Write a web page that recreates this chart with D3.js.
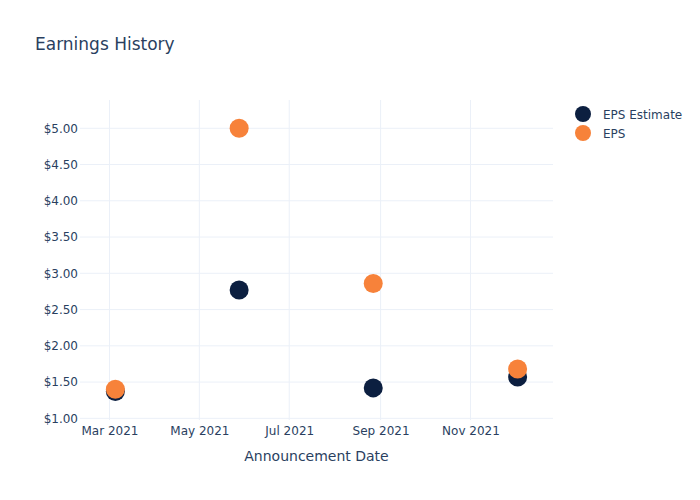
<!DOCTYPE html>
<html>
<head>
<meta charset="utf-8">
<script src="https://cdn.jsdelivr.net/npm/d3@7"></script>
<style>
body{margin:0;background:#fff;}
svg{font-family:"DejaVu Sans",Verdana,sans-serif;}
</style>
</head>
<body>
<svg id="chart" width="700" height="500"></svg>
<script>
const dates = ["2021-03-05","2021-05-28","2021-08-27","2021-12-03"];
const epsEstimate = [1.37, 2.77, 1.42, 1.57];
const eps = [1.40, 5.00, 2.86, 1.68];
const seriesNames = ["EPS Estimate","EPS"];
const seriesColors = ["#0c1f40","#f7823a"];
const xTickDates = ["2021-03-01","2021-05-01","2021-07-01","2021-09-01","2021-11-01"];
const yTicks = [1,1.5,2,2.5,3,3.5,4,4.5,5];

const parse = d3.utcParse("%Y-%m-%d");
const svg = d3.select("#chart");
const m = {l:80, r:147, t:100, b:80};
const W = 700, H = 500;

const x = d3.scaleUtc()
  .domain([parse("2021-02-09"), parse("2021-12-27")])
  .range([m.l, W - m.r]);
const y = d3.scaleLinear()
  .domain([0.977, 5.39])
  .range([H - m.b, m.t]);

const grid = "#ebf0f8";
const txt = "#2a3f5f";

// grid lines
svg.append("g").selectAll("line").data(yTicks).join("line")
  .attr("x1", m.l).attr("x2", W - m.r)
  .attr("y1", d => y(d)).attr("y2", d => y(d))
  .attr("stroke", grid).attr("stroke-width", 1);
svg.append("g").selectAll("line").data(xTickDates.map(parse)).join("line")
  .attr("x1", d => x(d)).attr("x2", d => x(d))
  .attr("y1", m.t).attr("y2", H - m.b)
  .attr("stroke", grid).attr("stroke-width", 1);

// axes
const yAxis = d3.axisLeft(y).tickValues(yTicks).tickSize(0).tickPadding(2)
  .tickFormat(d => "$" + d3.format(".2f")(d));
const gy = svg.append("g").attr("transform", `translate(${m.l},0)`).call(yAxis);
gy.select(".domain").remove();
gy.selectAll("text").attr("fill", txt).style("font-size", "12px")
  .style("font-family", "'DejaVu Sans',Verdana,sans-serif");

const xAxis = d3.axisBottom(x).tickValues(xTickDates.map(parse)).tickSize(0).tickPadding(6)
  .tickFormat(d3.utcFormat("%b %Y"));
const gx = svg.append("g").attr("transform", `translate(0,${H - m.b})`).call(xAxis);
gx.select(".domain").remove();
gx.selectAll("text").attr("fill", txt).style("font-size", "12px")
  .style("font-family", "'DejaVu Sans',Verdana,sans-serif");

// axis title
svg.append("text").attr("x", (m.l + W - m.r) / 2).attr("y", 461)
  .attr("text-anchor", "middle").attr("fill", txt).style("font-size", "14px")
  .text("Announcement Date");

// title
svg.append("text").attr("x", 35).attr("y", 50)
  .attr("fill", txt).style("font-size", "17px").text("Earnings History");

// points
const series = [epsEstimate, eps];
series.forEach((vals, i) => {
  svg.append("g").selectAll("circle").data(vals).join("circle")
    .attr("cx", (d, j) => x(parse(dates[j])))
    .attr("cy", d => y(d))
    .attr("r", 9.5)
    .attr("fill", seriesColors[i]);
});

// legend
const lg = svg.append("g");
seriesNames.forEach((n, i) => {
  const yy = 114 + i * 19;
  lg.append("circle").attr("cx", 583).attr("cy", yy).attr("r", 8).attr("fill", seriesColors[i]);
  lg.append("text").attr("x", 603).attr("y", yy + 4.5).attr("fill", txt)
    .style("font-size", "12px").text(n);
});
</script>
</body>
</html>
